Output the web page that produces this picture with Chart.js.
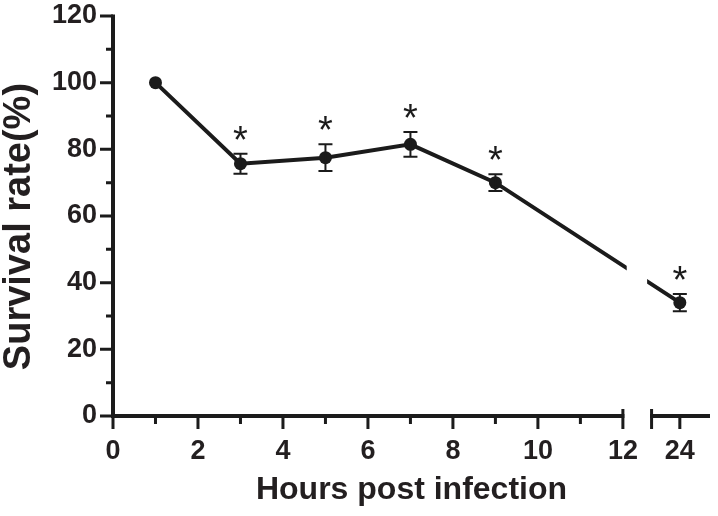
<!DOCTYPE html>
<html><head><meta charset="utf-8">
<script src="https://cdn.jsdelivr.net/npm/chart.js@4.4.1/dist/chart.umd.min.js"></script>
<style>html,body{margin:0;padding:0;background:#fff}#wrap{width:718px;height:516px}</style>
</head><body><div id="wrap"><canvas id="c" width="718" height="516"></canvas></div>
<script>
// ---- data ----
const hours = [1, 3, 5, 7, 9, 24];
const survival = [100, 75.7, 77.5, 81.5, 70, 34];
const sem = [0, 3, 4, 3.7, 2.5, 2.6];
const significant = [false, true, true, true, true, true];
const xTickHours = [0, 2, 4, 6, 8, 10, 12, 24];
const xMinorHours = [1, 3, 5, 7, 9, 11];
const yTickStep = 20;
const yMinor = [10, 30, 50, 70, 90, 110];

// ---- broken x axis: 0–12 linear, then 24 after a gap ----
const BREAK_LEFT_END = 12, BREAK_RIGHT_START = 12.675, POS24 = 13.34, X_MAX = 14.05;
function xPos(h) { return h <= 12 ? h : POS24 + (h - 24); }

const INK = '#1b1b1b';
const FONT = '"Liberation Sans", Arial, Helvetica, sans-serif';

const decor = {
  id: 'decor',
  afterDatasetsDraw(chart) {
    const { ctx, chartArea: a, scales: { x, y } } = chart;
    const y0 = y.getPixelForValue(0);
    ctx.save();
    // gap in the data line across the break
    ctx.fillStyle = '#fff';
    const g1 = x.getPixelForValue(12.09), g2 = x.getPixelForValue(12.57);
    ctx.fillRect(g1, a.top - 5, g2 - g1, y0 - 8 - a.top + 5);

    // error bars
    ctx.strokeStyle = INK; ctx.lineWidth = 2; ctx.lineCap = 'butt';
    hours.forEach((h, i) => {
      if (!sem[i]) return;
      const px = x.getPixelForValue(xPos(h));
      const t = y.getPixelForValue(survival[i] + sem[i]);
      const b = y.getPixelForValue(survival[i] - sem[i]);
      ctx.beginPath();
      ctx.moveTo(px, t); ctx.lineTo(px, b);
      ctx.moveTo(px - 7, t); ctx.lineTo(px + 7, t);
      ctx.moveTo(px - 7, b); ctx.lineTo(px + 7, b);
      ctx.stroke();
    });

    // asterisks
    ctx.fillStyle = INK;
    ctx.font = '38px ' + FONT;
    ctx.textAlign = 'center';
    ctx.textBaseline = 'alphabetic';
    const m = ctx.measureText('*');
    const off = (m.actualBoundingBoxAscent - m.actualBoundingBoxDescent) / 2;
    hours.forEach((h, i) => {
      if (!significant[i]) return;
      const px = x.getPixelForValue(xPos(h));
      const t = y.getPixelForValue(survival[i] + sem[i]);
      ctx.fillText('*', px, t - 21 + off);
    });

    // axes
    ctx.strokeStyle = INK;
    const x0 = a.left;
    ctx.lineWidth = 4;
    ctx.beginPath();
    ctx.moveTo(x0, y.getPixelForValue(120) - 1.5);
    ctx.lineTo(x0, y0 + 2);
    ctx.stroke();
    ctx.lineWidth = 3;
    ctx.beginPath();
    y.ticks.forEach(t => { const py = y.getPixelForValue(t.value); ctx.moveTo(x0 - 13, py); ctx.lineTo(x0, py); });
    yMinor.forEach(v => { const py = y.getPixelForValue(v); ctx.moveTo(x0 - 7, py); ctx.lineTo(x0, py); });
    ctx.stroke();
    const xl = x.getPixelForValue(BREAK_LEFT_END), xr = x.getPixelForValue(BREAK_RIGHT_START), xe = x.getPixelForValue(X_MAX);
    ctx.lineWidth = 4;
    ctx.beginPath();
    ctx.moveTo(x0 - 2, y0); ctx.lineTo(xl + 1.5, y0);
    ctx.moveTo(xr - 1.5, y0); ctx.lineTo(xe, y0);
    ctx.stroke();
    ctx.lineWidth = 3;
    ctx.beginPath();
    ctx.moveTo(xl, y0 - 7); ctx.lineTo(xl, y0 + 13);
    ctx.moveTo(xr, y0 - 7); ctx.lineTo(xr, y0 + 13);
    xTickHours.forEach(h => { const px = x.getPixelForValue(xPos(h)); ctx.moveTo(px, y0); ctx.lineTo(px, y0 + 13); });
    xMinorHours.forEach(h => { const px = x.getPixelForValue(xPos(h)); ctx.moveTo(px, y0); ctx.lineTo(px, y0 + 8); });
    ctx.stroke();
    ctx.restore();
  }
};

new Chart(document.getElementById('c'), {
  type: 'line',
  data: {
    datasets: [{
      data: hours.map((h, i) => ({ x: xPos(h), y: survival[i] })),
      borderColor: INK,
      borderWidth: 4,
      pointRadius: 6.5,
      pointBackgroundColor: INK,
      pointBorderWidth: 0,
      tension: 0,
      clip: false
    }]
  },
  options: {
    responsive: false,
    devicePixelRatio: 1,
    animation: false,
    layout: { padding: { top: 16, right: 8, left: 0, bottom: 0 } },
    plugins: { legend: { display: false }, tooltip: { enabled: false } },
    scales: {
      x: {
        type: 'linear', min: 0, max: X_MAX,
        afterBuildTicks: s => { s.ticks = xTickHours.map(h => ({ value: xPos(h) })); },
        afterFit: s => { s.height = 100; s.paddingLeft = 0; s.paddingRight = 0; },
        grid: { display: false, drawTicks: false },
        border: { display: false },
        ticks: {
          autoSkip: false, maxRotation: 0, minRotation: 0, padding: 19, color: '#231f20',
          font: { family: FONT, size: 27, weight: 'bold', lineHeight: 1.2 },
          callback: (v, i) => String(xTickHours[i])
        },
        title: {
          display: true, text: 'Hours post infection', color: '#231f20',
          font: { family: FONT, size: 32, weight: 'bold', lineHeight: 1 },
          padding: { top: 0, bottom: 10 }
        }
      },
      y: {
        min: 0, max: 120,
        afterFit: s => { s.width = 113; s.paddingTop = 0; s.paddingBottom = 0; },
        grid: { display: false, drawTicks: false },
        border: { display: false },
        ticks: {
          stepSize: yTickStep, padding: 16, color: '#231f20',
          font: { family: FONT, size: 27, weight: 'bold', lineHeight: 1.2 }
        },
        title: {
          display: true, text: 'Survival rate(%)  ', color: '#231f20',
          font: { family: FONT, size: 38, weight: 'bold', lineHeight: 1 },
          padding: { top: 1, bottom: 0 }
        }
      }
    }
  },
  plugins: [decor]
});
</script></body></html>
